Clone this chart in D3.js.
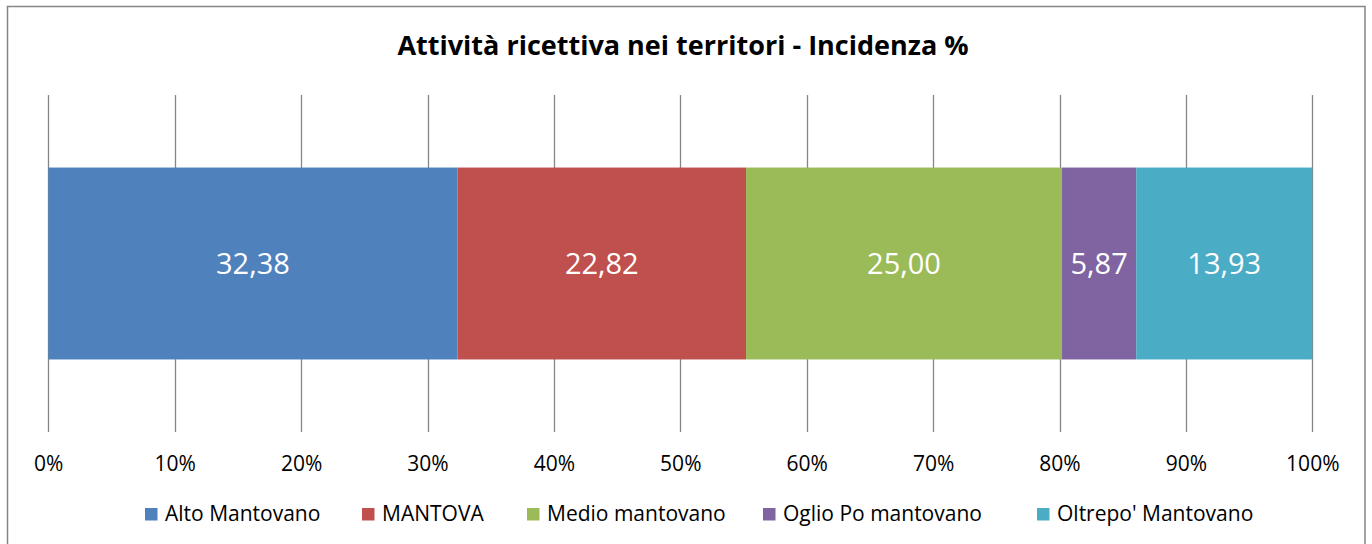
<!DOCTYPE html>
<html>
<head>
<meta charset="utf-8">
<script src="https://cdn.jsdelivr.net/npm/d3@7"></script>
<style>
  html, body { margin: 0; padding: 0; background: #fff; }
  svg { display: block; }
  text { font-family: "Open Sans", Lato, sans-serif; }
</style>
</head>
<body>
<svg id="chart" width="1372" height="544"></svg>
<script>
// Territories and their share (%) of accommodation activity
const territories = ["Alto Mantovano", "MANTOVA", "Medio mantovano", "Oglio Po mantovano", "Oltrepo' Mantovano"];
const shares = [32.38, 22.82, 25.00, 5.87, 13.93];
const colors = ["#4F81BD", "#C0504D", "#9BBB59", "#8064A2", "#4BACC6"];
const tickValues = [0, 10, 20, 30, 40, 50, 60, 70, 80, 90, 100];
const title = "Attività ricettiva nei territori - Incidenza %";

const svg = d3.select("#chart");

// chart frame
svg.append("rect")
  .attr("x", 7.5).attr("y", 6.5)
  .attr("width", 1357.5).attr("height", 560)
  .attr("fill", "#fff")
  .attr("stroke", "#868686").attr("stroke-width", 1.5);

const plot = { left: 48.3, right: 1312.3, top: 95, bottom: 432 };

const x = d3.scaleLinear().domain([0, 100]).range([plot.left, plot.right]);
const y = d3.scaleBand().domain(["row"]).range([plot.top, plot.bottom]).paddingInner(0).paddingOuter(0.378);

// title
svg.append("text")
  .attr("x", 683).attr("y", 55)
  .attr("text-anchor", "middle")
  .attr("font-size", 27).attr("font-weight", "bold")
  .attr("fill", "#000")
  .text(title);

// vertical gridlines
svg.append("g")
  .selectAll("line")
  .data(tickValues)
  .join("line")
  .attr("x1", d => Math.round(x(d)) + 0.5).attr("x2", d => Math.round(x(d)) + 0.5)
  .attr("y1", plot.top).attr("y2", plot.bottom)
  .attr("stroke", "#868686").attr("stroke-width", 1.3);

// stacked segments
const stacked = [];
let acc = 0;
shares.forEach((v, i) => { stacked.push({ name: territories[i], v, x0: acc, x1: acc + v, color: colors[i] }); acc += v; });

const bars = svg.append("g");
bars.selectAll("rect")
  .data(stacked)
  .join("rect")
  .attr("x", d => x(d.x0))
  .attr("width", d => x(d.x1) - x(d.x0))
  .attr("y", y("row"))
  .attr("height", y.bandwidth())
  .attr("fill", d => d.color);

const fmt = v => d3.format(".2f")(v).replace(".", ",");
bars.selectAll("text")
  .data(stacked)
  .join("text")
  .attr("x", d => (x(d.x0) + x(d.x1)) / 2)
  .attr("y", y("row") + y.bandwidth() / 2)
  .attr("dy", "0.36em")
  .attr("text-anchor", "middle")
  .attr("font-size", 29)
  .attr("fill", "#fff")
  .text(d => fmt(d.v));

// axis tick labels
const axis = d3.axisBottom(x).tickValues(tickValues).tickFormat(d => d + "%").tickSize(0).tickPadding(0);
const ag = svg.append("g").attr("transform", `translate(0,${plot.bottom})`).call(axis);
ag.select(".domain").remove();
ag.selectAll("text")
  .attr("y", 38.5).attr("dy", 0)
  .attr("font-size", 21).attr("fill", "#000")
  .style("font-family", "'Open Sans', Lato, sans-serif");

// legend
const legendX = [145, 362, 527, 763, 1037];
const lg = svg.append("g").selectAll("g")
  .data(territories)
  .join("g")
  .attr("transform", (d, i) => `translate(${legendX[i]},508)`);
lg.append("rect").attr("width", 12.5).attr("height", 12.5).attr("fill", (d, i) => colors[i]);
lg.append("text").attr("x", 20).attr("y", 13)
  .attr("font-size", 21).attr("fill", "#000")
  .text(d => d);
</script>
</body>
</html>
